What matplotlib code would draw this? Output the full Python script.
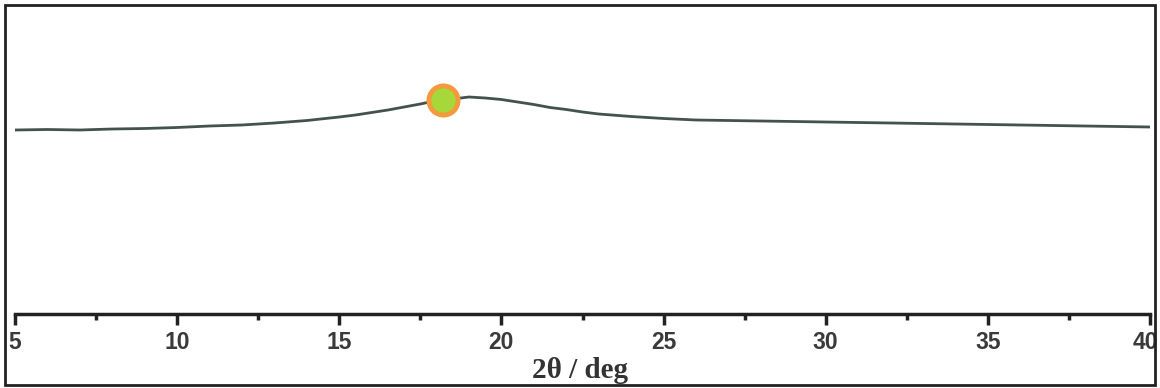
import matplotlib.pyplot as plt
from matplotlib.patches import Rectangle
from matplotlib.transforms import ScaledTranslation

# XRD pattern (2theta in deg, intensity in arbitrary units)
two_theta = [5, 6, 7, 8, 9, 10, 11, 12, 13, 14, 15, 15.5, 16, 16.5, 17, 17.5, 18,
             18.5, 19, 19.5, 20, 20.5, 21, 21.5, 22, 22.5, 23, 24, 25, 26, 27, 28,
             29, 30, 31, 32, 33, 34, 35, 36, 37, 38, 39, 40]
intensity = [184, 184.5, 184, 185, 185.5, 186.5, 188, 189, 191, 193.5, 197, 199, 201.5,
             204, 207, 210, 213.5, 215, 217, 216, 214.5, 212, 209.5, 206.5, 204.5, 202,
             200, 197.5, 195.5, 194, 193.5, 193, 192.5, 192, 191.5, 191, 190.5, 190,
             189.5, 189, 188.5, 188, 187.5, 187]

marker_x = [18.2]
marker_y = [214]

major_ticks = [5, 10, 15, 20, 25, 30, 35, 40]
minor_ticks = [7.5, 12.5, 17.5, 22.5, 27.5, 32.5, 37.5]

fig = plt.figure(figsize=(11.6, 3.88), dpi=100)
ax = fig.add_axes([15 / 1160, 1 - 314 / 388, 1135 / 1160, 306 / 388])

ax.plot(two_theta, intensity, color="#44524d", linewidth=2)
ax.plot(marker_x, marker_y, "o", markersize=21, markerfacecolor="#a6d83a",
        markeredgecolor="#f39a3c", markeredgewidth=3.5, zorder=5)

ax.set_xlim(5, 40)
ax.set_ylim(0, 306)
ax.set_xticks(major_ticks)
ax.set_xticks(minor_ticks, minor=True)
ax.set_yticks([])
for side in ["top", "right", "left"]:
    ax.spines[side].set_visible(False)
ax.spines["bottom"].set_linewidth(2.5)
ax.spines["bottom"].set_color("#222222")
ax.tick_params(axis="x", which="major", direction="out", length=8, width=2.5,
               color="#222222", labelsize=16.5, labelcolor="#3a3a3a", pad=4)
ax.tick_params(axis="x", which="minor", direction="out", length=4, width=2.5,
               color="#222222")
labels = ax.get_xticklabels()
for lab in labels:
    lab.set_fontfamily("Liberation Sans")
    lab.set_fontweight("bold")
# last label sits at the frame edge, nudge it inside
labels[-1].set_transform(labels[-1].get_transform()
                         + ScaledTranslation(-5 / 100, 0, fig.dpi_scale_trans))

fig.text(0.5, 10 / 388, "2θ / deg", ha="center", va="baseline", fontsize=21,
         fontfamily="Liberation Serif", fontweight="bold", color="#333333")

fig.patches.append(Rectangle((5 / 1160, 3 / 388), 1150 / 1160, 380 / 388,
                             transform=fig.transFigure, fill=False,
                             edgecolor="#222222", linewidth=2, zorder=11))

fig.savefig("out.png", dpi=100)
